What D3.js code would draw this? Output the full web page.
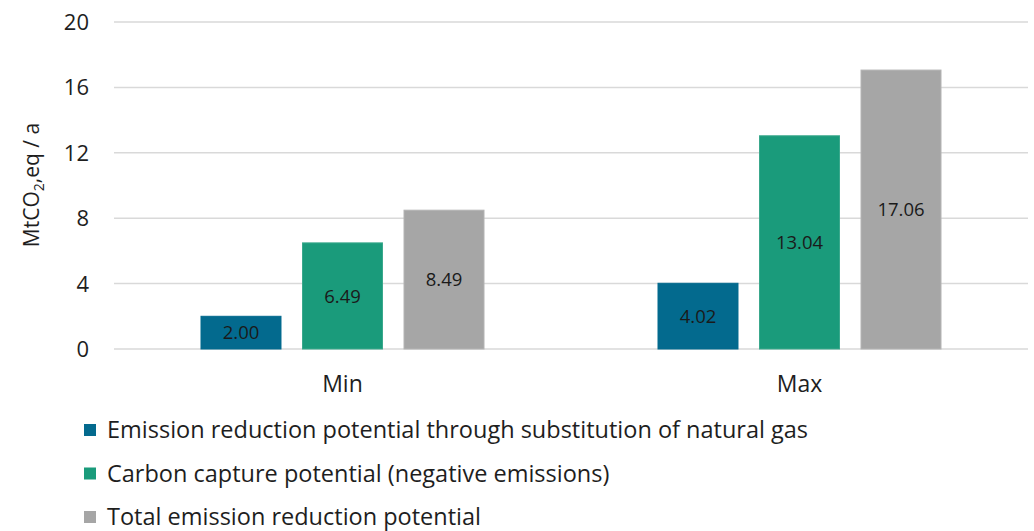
<!DOCTYPE html>
<html>
<head>
<meta charset="utf-8">
<script src="https://cdn.jsdelivr.net/npm/d3@7"></script>
<style>
  body { margin: 0; background: #fff; }
  svg { font-family: "Open Sans", sans-serif; }
</style>
</head>
<body>
<svg id="canvas"></svg>
<script>
const categories = ['Min', 'Max']
const series = [
  'Emission reduction potential through substitution of natural gas',
  'Carbon capture potential (negative emissions)',
  'Total emission reduction potential'
]
const values = [
  [2.00, 6.49, 8.49],
  [4.02, 13.04, 17.06]
]
const yTicks = [0, 4, 8, 12, 16, 20]
const colors = ['#036a8e', '#1a9b7b', '#a6a6a6']
const borders = ['#036a8e', '#3aa88c', '#b4b4b4']

const w = 1034
const h = 531
const canvas = d3.select('#canvas').attr('width', w).attr('height', h)

const plotLeft = 114
const plotRight = 1028
const plotTop = 22
const plotBottom = 349

const y = d3.scaleLinear().domain([0, 20]).range([plotBottom, plotTop])
const x0 = d3.scaleBand().domain(categories).range([plotLeft, plotRight]).padding(0)
const x1 = d3.scaleBand().domain(d3.range(series.length)).range([0, 283]).paddingInner(0.212).paddingOuter(0)

// gridlines
canvas.append('g')
  .selectAll('line')
  .data(yTicks)
  .enter()
  .append('line')
  .attr('x1', plotLeft)
  .attr('x2', plotRight)
  .attr('y1', d => y(d))
  .attr('y2', d => y(d))
  .attr('stroke', '#d9d9d9')
  .attr('stroke-width', 1.5)

// y tick labels
canvas.append('g')
  .selectAll('text')
  .data(yTicks)
  .enter()
  .append('text')
  .attr('x', 89)
  .attr('y', d => y(d))
  .attr('dy', '0.36em')
  .attr('text-anchor', 'end')
  .attr('font-size', 22)
  .attr('fill', '#1e1e1e')
  .text(d => d)

// y axis title
const yTitle = canvas.append('text')
  .attr('transform', 'translate(39,185) rotate(-90)')
  .attr('text-anchor', 'middle')
  .attr('font-size', 21)
  .attr('fill', '#1e1e1e')
yTitle.append('tspan').text('MtCO')
yTitle.append('tspan').attr('font-size', 14).attr('dy', 5).text('2')
yTitle.append('tspan').attr('dy', -5).text(',eq / a')

// bars
const groups = canvas.append('g')
  .selectAll('g')
  .data(values)
  .enter()
  .append('g')
  .attr('transform', (d, i) => 'translate(' + (x0(categories[i]) + x0.bandwidth() / 2 - 141.5) + ',0)')

groups.selectAll('rect')
  .data(d => d)
  .enter()
  .append('rect')
  .attr('x', (d, i) => x1(i))
  .attr('width', x1.bandwidth())
  .attr('y', d => y(d))
  .attr('height', d => y(0) - y(d))
  .attr('fill', (d, i) => colors[i])
  .attr('stroke', (d, i) => borders[i])
  .attr('stroke-width', 1)

groups.selectAll('text')
  .data(d => d)
  .enter()
  .append('text')
  .attr('x', (d, i) => x1(i) + x1.bandwidth() / 2)
  .attr('y', d => (y(d) + y(0)) / 2)
  .attr('dy', '0.36em')
  .attr('text-anchor', 'middle')
  .attr('font-size', 18.5)
  .attr('fill', '#1a1a1a')
  .text(d => d.toFixed(2))

// category labels
canvas.append('g')
  .selectAll('text')
  .data(categories)
  .enter()
  .append('text')
  .attr('x', d => x0(d) + x0.bandwidth() / 2)
  .attr('y', 384)
  .attr('dy', '0.36em')
  .attr('text-anchor', 'middle')
  .attr('font-size', 23)
  .attr('fill', '#1e1e1e')
  .text(d => d)

// legend
const legend = canvas.append('g')
  .selectAll('g')
  .data(series)
  .enter()
  .append('g')
  .attr('transform', (d, i) => 'translate(84,' + (430 + i * 43.5) + ')')

legend.append('rect')
  .attr('x', 0)
  .attr('y', -6)
  .attr('width', 12)
  .attr('height', 12)
  .attr('fill', (d, i) => colors[i])

legend.append('text')
  .attr('x', 23)
  .attr('y', 0)
  .attr('dy', '0.36em')
  .attr('font-size', 23.5)
  .attr('fill', '#1e1e1e')
  .text(d => d)
</script>
</body>
</html>
